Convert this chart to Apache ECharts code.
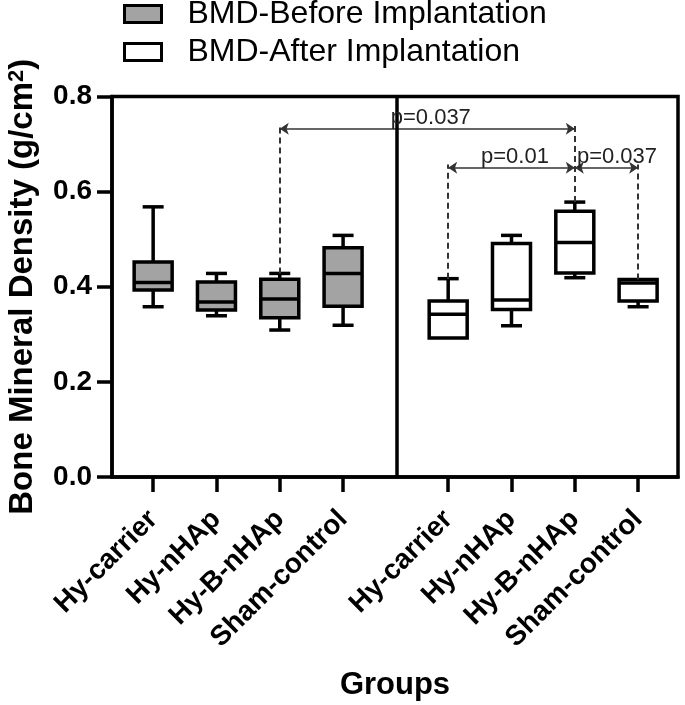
<!DOCTYPE html>
<html>
<head>
<meta charset="utf-8">
<script src="https://cdn.jsdelivr.net/npm/echarts@6/dist/echarts.min.js"></script>
<style>
html,body{margin:0;padding:0;background:#fff;}
#chart{width:685px;height:705px;}
</style>
</head>
<body>
<div id="chart"></div>
<script>
// ---- data ----
const categories = ['Hy-carrier', 'Hy-nHAp', 'Hy-B-nHAp', 'Sham-control'];
// [min, Q1, median, Q3, max]
const beforeValues = [
  [0.358, 0.393, 0.409, 0.452, 0.568],
  [0.339, 0.351, 0.368, 0.410, 0.428],
  [0.309, 0.335, 0.374, 0.416, 0.428],
  [0.319, 0.359, 0.428, 0.482, 0.508]
];
const afterValues = [
  [0.292, 0.292, 0.342, 0.370, 0.417],
  [0.318, 0.352, 0.372, 0.491, 0.508],
  [0.419, 0.429, 0.493, 0.559, 0.578],
  [0.358, 0.370, 0.408, 0.415, 0.415]
];
const yTicks = [0, 0.2, 0.4, 0.6, 0.8];
// comparisons: [group, index] -> [group, index]
const pTexts = ['p=0.037', 'p=0.01', 'p=0.037'];
const pLevels = [0.732, 0.650, 0.650];
const pFrom = [['before', 2], ['after', 0], ['after', 2]];
const pTo = [['after', 2], ['after', 2], ['after', 3]];

// ---- layout (not data) ----
const beforePos = [1, 2, 3, 4];
const afterPos = [5.66, 6.66, 7.66, 8.66];
const X_MIN = 0.35, X_MAX = 9.29, DIVIDER_X = 4.85;
const labelShift = [7, 7, 21];
const FONT = 'Liberation Sans, Arial, sans-serif';

const allPos = beforePos.concat(afterPos);
const allNames = categories.concat(categories);

function buildData(pos, vals) {
  return vals.map((v, i) => [pos[i]].concat(v));
}
function makeRender(fill) {
  return function (params, api) {
    const x = api.value(0);
    const c = (v) => api.coord([x, v]);
    const pMin = c(api.value(1)), pQ1 = c(api.value(2)), pMed = c(api.value(3)),
          pQ3 = c(api.value(4)), pMax = c(api.value(5));
    const cx = pMed[0];
    const bw = 38, cw = 21, lw = 3.5;
    const st = { stroke: '#000', lineWidth: lw, fill: null };
    const ch = [];
    if (api.value(5) > api.value(4)) {
      ch.push({ type: 'line', shape: { x1: cx, y1: pQ3[1], x2: cx, y2: pMax[1] }, style: st });
      ch.push({ type: 'line', shape: { x1: cx - cw / 2, y1: pMax[1], x2: cx + cw / 2, y2: pMax[1] }, style: st });
    }
    if (api.value(1) < api.value(2)) {
      ch.push({ type: 'line', shape: { x1: cx, y1: pQ1[1], x2: cx, y2: pMin[1] }, style: st });
      ch.push({ type: 'line', shape: { x1: cx - cw / 2, y1: pMin[1], x2: cx + cw / 2, y2: pMin[1] }, style: st });
    }
    ch.push({ type: 'rect', shape: { x: cx - bw / 2, y: pQ3[1], width: bw, height: pQ1[1] - pQ3[1] },
      style: { fill: fill, stroke: '#000', lineWidth: lw } });
    ch.push({ type: 'line', shape: { x1: cx - bw / 2, y1: pMed[1], x2: cx + bw / 2, y2: pMed[1] }, style: st });
    return { type: 'group', children: ch };
  };
}

function ref(p) {
  const g = p[0] === 'before' ? { pos: beforePos, vals: beforeValues } : { pos: afterPos, vals: afterValues };
  return { x: g.pos[p[1]], top: g.vals[p[1]][4] };
}
const arrowLines = [], dashLines = [];
pTexts.forEach((t, i) => {
  const a = ref(pFrom[i]), b = ref(pTo[i]);
  const lv = pLevels[i];
  arrowLines.push([
    { coord: [a.x, lv], label: { show: true, formatter: t, position: 'middle', distance: 0,
      fontSize: 22, color: '#222', fontFamily: FONT, padding: [0, 0, 0, labelShift[i]] } },
    { coord: [b.x, lv] }
  ]);
  dashLines.push([{ coord: [a.x, a.top] }, { coord: [a.x, lv + 0.007] }]);
  dashLines.push([{ coord: [b.x, b.top] }, { coord: [b.x, lv + 0.007] }]);
});

const chart = echarts.init(document.getElementById('chart'), null, { renderer: 'canvas' });
chart.setOption({
  animation: false,
  backgroundColor: '#fff',
  textStyle: { fontFamily: FONT },
  legend: {
    orient: 'vertical', left: 123, top: -2, padding: 0,
    itemWidth: 37, itemHeight: 17, itemGap: 6,
    selectedMode: false,
    textStyle: { fontSize: 32, color: '#000', fontFamily: FONT, padding: [0, 0, 0, 21] },
    data: [
      { name: 'BMD-Before Implantation', icon: 'rect', itemStyle: { color: '#a3a3a3', borderColor: '#000', borderWidth: 3 } },
      { name: 'BMD-After Implantation', icon: 'rect', itemStyle: { color: '#fff', borderColor: '#000', borderWidth: 3 } }
    ]
  },
  grid: { left: 112, right: 7, top: 96.5, bottom: 228, show: true, borderColor: '#000', borderWidth: 3.5,
    containLabel: false, outerBoundsMode: 'none' },
  xAxis: {
    type: 'value', min: X_MIN, max: X_MAX,
    name: 'Groups', nameLocation: 'middle', nameGap: 193,
    nameTextStyle: { fontSize: 31, fontWeight: 'bold', color: '#000', fontFamily: FONT },
    axisLine: { show: true, lineStyle: { color: '#000', width: 3.5 } },
    axisTick: { show: true, length: 15, lineStyle: { color: '#000', width: 3.5 }, customValues: allPos },
    axisLabel: {
      customValues: allPos, rotate: 45, margin: 38, fontSize: 28, fontWeight: 'bold', color: '#000', fontFamily: FONT,
      formatter: function (v) {
        for (let i = 0; i < allPos.length; i++) if (Math.abs(allPos[i] - v) < 1e-6) return allNames[i];
        return '';
      }
    },
    splitLine: { show: false }
  },
  yAxis: {
    type: 'value', min: yTicks[0], max: yTicks[yTicks.length - 1], interval: 0.2,
    name: 'Bone Mineral Density (g/cm{s|2})', nameLocation: 'middle', nameGap: 73,
    nameTextStyle: { fontSize: 33, fontWeight: 'bold', color: '#000', fontFamily: FONT,
      rich: { s: { fontSize: 22, fontWeight: 'bold', color: '#000', fontFamily: FONT, verticalAlign: 'top' } } },
    axisLine: { show: true, lineStyle: { color: '#000', width: 3.5 } },
    axisTick: { show: true, length: 15, lineStyle: { color: '#000', width: 3.5 } },
    axisLabel: { fontSize: 28, fontWeight: 'bold', color: '#000', margin: 20, fontFamily: FONT,
      formatter: (v) => v.toFixed(1) },
    splitLine: { show: false }
  },
  series: [
    {
      name: 'BMD-Before Implantation', type: 'custom',
      dimensions: ['x', 'min', 'q1', 'med', 'q3', 'max'],
      encode: { x: 0, y: [1, 2, 3, 4, 5] },
      itemStyle: { color: '#a3a3a3', borderColor: '#000' },
      renderItem: makeRender('#a3a3a3'),
      data: buildData(beforePos, beforeValues),
      z: 3
    },
    {
      name: 'BMD-After Implantation', type: 'custom',
      dimensions: ['x', 'min', 'q1', 'med', 'q3', 'max'],
      encode: { x: 0, y: [1, 2, 3, 4, 5] },
      itemStyle: { color: '#fff', borderColor: '#000' },
      renderItem: makeRender('#fff'),
      data: buildData(afterPos, afterValues),
      z: 3
    },
    {
      name: 'annotations', type: 'line', data: [], silent: true, z: 2,
      markLine: {
        silent: true, symbol: 'none', animation: false,
        label: { show: false },
        lineStyle: { color: '#333', width: 2, type: [6, 4] },
        emphasis: { disabled: true },
        data: dashLines
      }
    },
    {
      name: 'arrows', type: 'line', data: [], silent: true, z: 2,
      markLine: {
        silent: true, symbol: ['arrow', 'arrow'], symbolSize: 9, animation: false,
        lineStyle: { color: '#333', width: 1.5, type: 'solid' },
        emphasis: { disabled: true },
        data: arrowLines
      }
    },
    {
      name: 'divider', type: 'line', data: [], silent: true, z: 4,
      markLine: {
        silent: true, symbol: 'none', animation: false,
        label: { show: false },
        lineStyle: { color: '#000', width: 3.5, type: 'solid' },
        emphasis: { disabled: true },
        data: [{ xAxis: DIVIDER_X }]
      }
    }
  ]
});
</script>
</body>
</html>
